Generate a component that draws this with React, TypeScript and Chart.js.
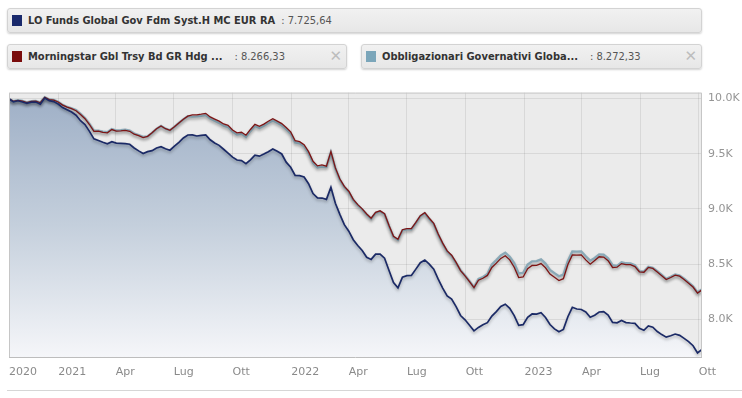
import React, { useEffect, useRef } from "react";
import { Chart, registerables } from "chart.js";
Chart.register(...registerables);

const START_DATE = [2020, 9, 16]; // 16 Oct 2020, weekly observations
const fundValues = [
  9996, 9969, 9979, 9968, 9955, 9966, 9967, 9949, 10004, 9980,
  9972, 9949, 9917, 9898, 9877, 9848, 9798, 9763, 9702, 9634,
  9619, 9603, 9589, 9609, 9596, 9593, 9590, 9585, 9551, 9525,
  9501, 9518, 9527, 9551, 9563, 9544, 9531, 9568, 9603, 9642,
  9669, 9670, 9660, 9665, 9669, 9626, 9596, 9575, 9540, 9504,
  9468, 9442, 9437, 9409, 9444, 9487, 9477, 9496, 9518, 9542,
  9521, 9497, 9423, 9377, 9303, 9301, 9289, 9228, 9138, 9099,
  9098, 9086, 9196, 9050, 8950, 8857, 8798, 8720, 8668, 8623,
  8561, 8542, 8590, 8590, 8553, 8441, 8332, 8284, 8382, 8395,
  8396, 8454, 8512, 8537, 8499, 8453, 8363, 8282, 8212, 8183,
  8114, 8034, 7995, 7946, 7895, 7926, 7950, 7969, 8029, 8069,
  8115, 8136, 8099, 8033, 7945, 7951, 8018, 8048, 8046, 8060,
  8016, 7952, 7913, 7886, 7908, 8023, 8108, 8093, 8088, 8066,
  8018, 8036, 8066, 8069, 8038, 7972, 7968, 7989, 7970, 7966,
  7963, 7917, 7900, 7939, 7928, 7889, 7861, 7838, 7850, 7866,
  7854, 7827, 7797, 7760, 7695, 7726,
];
const indexValues = [
  9996, 9973, 9982, 9975, 9963, 9974, 9975, 9961, 10010, 9989,
  9984, 9968, 9940, 9921, 9908, 9889, 9854, 9817, 9764, 9702,
  9703, 9693, 9689, 9718, 9704, 9707, 9711, 9703, 9676, 9663,
  9646, 9657, 9689, 9725, 9751, 9726, 9712, 9743, 9778, 9811,
  9840, 9851, 9852, 9858, 9865, 9833, 9813, 9794, 9769, 9756,
  9714, 9688, 9694, 9667, 9719, 9765, 9747, 9768, 9793, 9816,
  9794, 9772, 9737, 9697, 9617, 9608, 9581, 9518, 9431, 9389,
  9398, 9386, 9518, 9371, 9270, 9203, 9160, 9086, 9038, 9000,
  8954, 8915, 8968, 8982, 8956, 8850, 8751, 8725, 8811, 8820,
  8820, 8877, 8938, 8965, 8915, 8868, 8772, 8690, 8619, 8580,
  8515, 8441, 8393, 8341, 8286, 8353, 8371, 8397, 8469, 8508,
  8551, 8575, 8538, 8471, 8377, 8383, 8457, 8487, 8488, 8504,
  8466, 8409, 8380, 8351, 8367, 8496, 8582, 8581, 8583, 8538,
  8499, 8533, 8566, 8563, 8530, 8469, 8472, 8504, 8495, 8494,
  8477, 8430, 8426, 8469, 8460, 8429, 8395, 8360, 8378, 8399,
  8390, 8361, 8327, 8292, 8237, 8266,
];
const categoryValues = [
  9998, 9975, 9984, 9977, 9965, 9976, 9977, 9963, 10012, 9991,
  9986, 9970, 9942, 9923, 9910, 9895, 9860, 9823, 9770, 9708,
  9709, 9699, 9695, 9724, 9710, 9713, 9717, 9709, 9682, 9669,
  9652, 9657, 9689, 9725, 9751, 9726, 9712, 9743, 9778, 9811,
  9840, 9836, 9837, 9843, 9850, 9818, 9798, 9779, 9754, 9741,
  9699, 9673, 9679, 9652, 9704, 9750, 9732, 9753, 9778, 9801,
  9779, 9757, 9722, 9682, 9602, 9593, 9566, 9503, 9416, 9374,
  9383, 9380, 9512, 9365, 9264, 9197, 9154, 9080, 9032, 8994,
  8948, 8909, 8962, 8976, 8950, 8844, 8745, 8719, 8805, 8814,
  8814, 8871, 8932, 8959, 8909, 8862, 8766, 8684, 8613, 8574,
  8509, 8445, 8397, 8345, 8290, 8365, 8383, 8409, 8497, 8536,
  8579, 8603, 8566, 8509, 8415, 8421, 8495, 8525, 8526, 8542,
  8504, 8447, 8418, 8389, 8405, 8528, 8614, 8613, 8615, 8570,
  8531, 8555, 8588, 8585, 8552, 8491, 8484, 8516, 8507, 8506,
  8489, 8436, 8432, 8475, 8466, 8435, 8401, 8366, 8384, 8405,
  8396, 8367, 8333, 8298, 8243, 8272,
];
const tickDates = [
  null, "2021-01-01", "2021-04-01", "2021-07-01", "2021-10-01",
  "2022-01-01", "2022-04-01", "2022-07-01", "2022-10-01",
  "2023-01-01", "2023-04-01", "2023-07-01", "2023-10-01",
];
const tickLabels = ["2020", "2021", "Apr", "Lug", "Ott", "2022", "Apr", "Lug", "Ott", "2023", "Apr", "Lug", "Ott"];
const yTicks = [8000, 8500, 9000, 9500, 10000];
const Y_MIN = 7658;
const Y_MAX = 10053;

const seriesNames = [
  "LO Funds Global Gov Fdm Syst.H MC EUR RA",
  "Morningstar Gbl Trsy Bd GR Hdg ...",
  "Obbligazionari Governativi Globa...",
];
const seriesLast = ["7.725,64", "8.266,33", "8.272,33"];
const seriesColors = ["#1b2a66", "#7d1414", "#8aa9b7"];
const squareColors = ["#1a2a6c", "#7a0c0c", "#7ba6ba"];

const DAY = 86400000;
const startMs = Date.UTC(START_DATE[0], START_DATE[1], START_DATE[2]);
const weekX = (i: number) => startMs + i * 7 * DAY;
const toMs = (s: string) => {
  const [y, m, d] = s.split("-").map(Number);
  return Date.UTC(y, m - 1, d);
};

const legendFont = '"DejaVu Sans Condensed", "DejaVu Sans", sans-serif';

function LegendBox(props: { left: number; top: number; width: number; idx: number; closable: boolean }) {
  const { left, top, width, idx, closable } = props;
  return (
    <div
      style={{
        position: "absolute",
        left,
        top,
        width,
        height: 25,
        boxSizing: "border-box",
        background: "linear-gradient(#f1f1f1, #e7e7e7)",
        border: "1px solid #d3d3d3",
        borderRadius: 3,
        boxShadow: "0 1px 2px rgba(0,0,0,0.18)",
        display: "flex",
        alignItems: "center",
        paddingLeft: 4,
        fontFamily: legendFont,
        fontSize: 11,
        whiteSpace: "nowrap",
      }}
    >
      <span style={{ display: "inline-block", width: 10, height: 11, background: squareColors[idx], marginRight: 6 }} />
      <span style={{ fontWeight: "bold", color: "#333" }}>{seriesNames[idx]}</span>
      <span style={{ color: "#555", marginLeft: idx === 0 ? 6 : 12 }}>: {seriesLast[idx]}</span>
      {closable && (
        <span
          style={{
            position: "absolute",
            right: 4,
            top: 2,
            color: "#bdbdbd",
            fontFamily: "DejaVu Sans, sans-serif",
            fontSize: 15,
          }}
        >
          ✕
        </span>
      )}
    </div>
  );
}

export default function App() {
  const canvasRef = useRef<HTMLCanvasElement | null>(null);

  useEffect(() => {
    const canvas = canvasRef.current;
    if (!canvas) return;
    Chart.defaults.font.family = "DejaVu Sans";

    const mk = (arr: number[]) => arr.map((v, i) => ({ x: weekX(i), y: v }));
    const xMin = weekX(0);
    const xMax = weekX(fundValues.length - 1);

    const bgPlugin = {
      id: "bgPlugin",
      beforeDraw(chart: any) {
        const { ctx, chartArea } = chart;
        ctx.save();
        ctx.fillStyle = "#ebebeb";
        ctx.fillRect(chartArea.left, chartArea.top, chartArea.right - chartArea.left, chartArea.bottom - chartArea.top);
        ctx.restore();
      },
      beforeDatasetDraw(chart: any) {
        const ctx = chart.ctx;
        ctx.save();
        ctx.shadowColor = "rgba(0,0,0,0.28)";
        ctx.shadowBlur = 3;
        ctx.shadowOffsetY = 2;
      },
      afterDatasetDraw(chart: any) {
        chart.ctx.restore();
      },
      afterDraw(chart: any) {
        const { ctx, chartArea } = chart;
        ctx.save();
        ctx.strokeStyle = "#c6c6c6";
        ctx.lineWidth = 1;
        ctx.beginPath();
        ctx.moveTo(chartArea.left + 0.5, chartArea.bottom);
        ctx.lineTo(chartArea.left + 0.5, chartArea.top + 0.5);
        ctx.lineTo(chartArea.right - 0.5, chartArea.top + 0.5);
        ctx.lineTo(chartArea.right - 0.5, chartArea.bottom);
        ctx.stroke();
        ctx.strokeStyle = "#bdbdbd";
        ctx.beginPath();
        ctx.moveTo(chartArea.left, chartArea.bottom + 0.5);
        ctx.lineTo(chartArea.right, chartArea.bottom + 0.5);
        ctx.stroke();
        ctx.restore();
      },
    };

    const chart = new Chart(canvas, {
      type: "line",
      data: {
        datasets: [
          {
            label: seriesNames[0],
            data: mk(fundValues),
            borderColor: seriesColors[0],
            borderWidth: 1.7,
            pointRadius: 0,
            tension: 0,
            fill: "start",
            backgroundColor: (c: any) => {
              const area = c.chart.chartArea;
              if (!area) return "rgba(170,185,205,0.8)";
              const g = c.chart.ctx.createLinearGradient(0, area.top, 0, area.bottom);
              g.addColorStop(0, "#9eafc6");
              g.addColorStop(0.5, "#c4cfdc");
              g.addColorStop(1, "#f5f6f9");
              return g;
            },
          },
          {
            label: seriesNames[1],
            data: mk(indexValues),
            borderColor: seriesColors[1],
            borderWidth: 1.3,
            pointRadius: 0,
            tension: 0,
            fill: false,
          },
          {
            label: seriesNames[2],
            data: mk(categoryValues),
            borderColor: seriesColors[2],
            borderWidth: 2.3,
            pointRadius: 0,
            tension: 0,
            fill: false,
          },
        ],
      },
      options: {
        animation: false,
        responsive: false,
        devicePixelRatio: 1,
        layout: { padding: { left: 7, top: 4, right: 0, bottom: 0 } },
        plugins: {
          legend: { display: false },
          tooltip: { enabled: false },
          filler: { drawTime: "beforeDatasetsDraw" },
        } as any,
        scales: {
          x: {
            type: "linear",
            min: xMin,
            max: xMax,
            z: 1,
            afterBuildTicks: (scale: any) => {
              scale.ticks = tickDates.map((d) => ({ value: d ? toMs(d) : xMin }));
            },
            afterFit: (scale: any) => {
              scale.height = 41;
            },
            grid: { color: "rgba(0,0,0,0.08)", drawTicks: false },
            border: { display: false },
            ticks: {
              autoSkip: false,
              maxRotation: 0,
              align: "start",
              labelOffset: 0,
              padding: 9,
              color: "#8a8a8a",
              font: { size: 11, family: "DejaVu Sans" },
              callback: (_v: any, i: number) => tickLabels[i],
            },
          },
          y: {
            type: "linear",
            position: "right",
            min: Y_MIN,
            max: Y_MAX,
            z: 1,
            afterBuildTicks: (scale: any) => {
              scale.ticks = yTicks.map((v) => ({ value: v }));
            },
            afterFit: (scale: any) => {
              scale.width = 40;
            },
            grid: { color: "rgba(0,0,0,0.08)", drawTicks: false },
            border: { display: false },
            ticks: {
              padding: 6,
              color: "#959595",
              font: { size: 11, family: "DejaVu Sans" },
              callback: (v: any) => (Number(v) / 1000).toFixed(1) + "K",
            },
          },
        },
      } as any,
      plugins: [bgPlugin],
    });
    return () => chart.destroy();
  }, []);

  return (
    <div
      style={{
        position: "fixed",
        left: 0,
        top: 0,
        width: 742,
        height: 398,
        background: "#fff",
        overflow: "hidden",
      }}
    >
      <LegendBox left={7} top={8} width={695} idx={0} closable={false} />
      <LegendBox left={7} top={44} width={340} idx={1} closable={true} />
      <LegendBox left={361} top={44} width={341} idx={2} closable={true} />
      <div style={{ position: "absolute", left: 0, top: 80, width: 742, height: 318 }}>
        <canvas ref={canvasRef} width={742} height={318} style={{ width: 742, height: 318, display: "block" }} />
      </div>
      <div style={{ position: "absolute", left: 7, top: 390, width: 735, height: 1, background: "#d6d6d6" }} />
    </div>
  );
}
